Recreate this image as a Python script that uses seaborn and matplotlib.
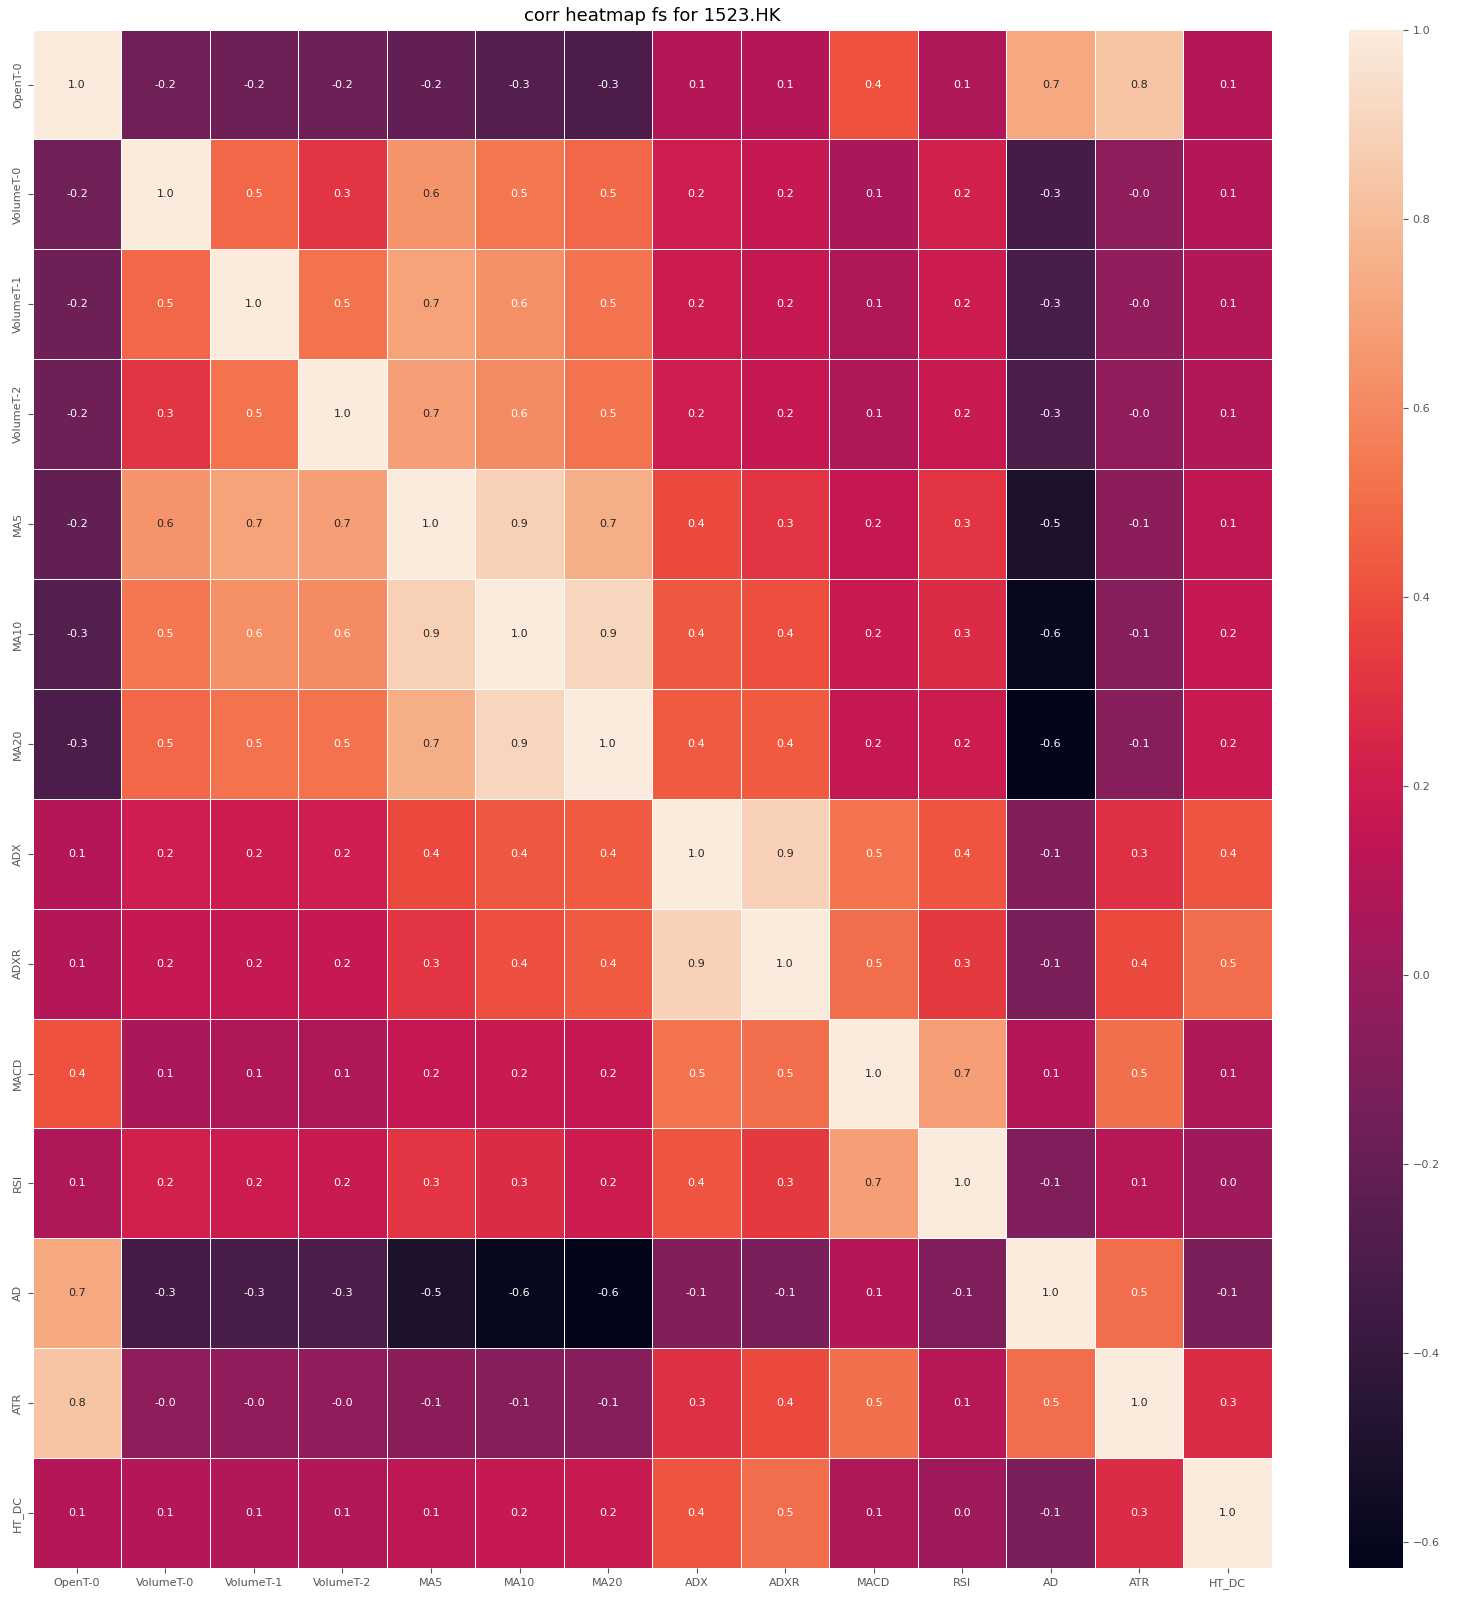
import numpy as np
import pandas as pd
import matplotlib
matplotlib.use('Agg')
import matplotlib.pyplot as plt
import seaborn as sns

# feature names (rows and columns of the correlation matrix)
features = ['OpenT-0', 'VolumeT-0', 'VolumeT-1', 'VolumeT-2', 'MA5', 'MA10', 'MA20',
            'ADX', 'ADXR', 'MACD', 'RSI', 'AD', 'ATR', 'HT_DC']

# correlation values
row_open = [1.00, -0.16, -0.17, -0.17, -0.22, -0.27, -0.30, 0.10, 0.10, 0.41, 0.08, 0.72, 0.83, 0.10]
row_vol0 = [-0.16, 1.00, 0.48, 0.31, 0.64, 0.54, 0.48, 0.20, 0.17, 0.06, 0.22, -0.33, -0.04, 0.10]
row_vol1 = [-0.17, 0.48, 1.00, 0.52, 0.70, 0.62, 0.52, 0.19, 0.17, 0.08, 0.19, -0.31, -0.03, 0.09]
row_vol2 = [-0.17, 0.31, 0.52, 1.00, 0.68, 0.61, 0.52, 0.20, 0.17, 0.08, 0.18, -0.30, -0.03, 0.09]
row_ma5 = [-0.22, 0.64, 0.70, 0.68, 1.00, 0.88, 0.74, 0.38, 0.31, 0.16, 0.31, -0.50, -0.06, 0.14]
row_ma10 = [-0.27, 0.54, 0.62, 0.61, 0.88, 1.00, 0.91, 0.43, 0.40, 0.18, 0.27, -0.60, -0.08, 0.17]
row_ma20 = [-0.30, 0.48, 0.52, 0.52, 0.74, 0.91, 1.00, 0.44, 0.44, 0.16, 0.19, -0.627, -0.08, 0.18]
row_adx = [0.10, 0.20, 0.19, 0.20, 0.38, 0.43, 0.44, 1.00, 0.89, 0.52, 0.42, -0.09, 0.29, 0.42]
row_adxr = [0.10, 0.17, 0.17, 0.17, 0.31, 0.40, 0.44, 0.89, 1.00, 0.50, 0.33, -0.12, 0.38, 0.50]
row_macd = [0.41, 0.06, 0.08, 0.08, 0.16, 0.18, 0.16, 0.52, 0.50, 1.00, 0.68, 0.10, 0.51, 0.08]
row_rsi = [0.08, 0.22, 0.19, 0.18, 0.31, 0.27, 0.19, 0.42, 0.33, 0.68, 1.00, -0.10, 0.11, 0.01]
row_ad = [0.72, -0.33, -0.31, -0.30, -0.50, -0.60, -0.627, -0.09, -0.12, 0.10, -0.10, 1.00, 0.50, -0.12]
row_atr = [0.83, -0.04, -0.03, -0.03, -0.06, -0.08, -0.08, 0.29, 0.38, 0.51, 0.11, 0.50, 1.00, 0.27]
row_htdc = [0.10, 0.10, 0.09, 0.09, 0.14, 0.17, 0.18, 0.42, 0.50, 0.08, 0.01, -0.12, 0.27, 1.00]

corr = pd.DataFrame([row_open, row_vol0, row_vol1, row_vol2, row_ma5, row_ma10, row_ma20,
                     row_adx, row_adxr, row_macd, row_rsi, row_ad, row_atr, row_htdc],
                    index=features, columns=features)

plt.rcParams['xtick.color'] = '#555555'
plt.rcParams['ytick.color'] = '#555555'

fig = plt.figure(figsize=(14.71, 16), dpi=100)
ax = fig.add_axes([0.0222, 0.02, 0.8425, 0.9615])
cax = fig.add_axes([0.917, 0.02, 0.0367, 0.9615])

sns.heatmap(corr, annot=True, fmt='.1f', linewidths=0.5, linecolor='white',
            annot_kws={'fontsize': 8}, ax=ax, cbar_ax=cax)

ax.set_title('corr heatmap fs for 1523.HK', fontsize=13)
ax.tick_params(axis='both', labelsize=8, length=3.5)
cax.tick_params(labelsize=8, length=3.5)
cax.set_yticks(np.arange(-0.6, 1.01, 0.2))

fig.savefig('out.png', dpi=100)
